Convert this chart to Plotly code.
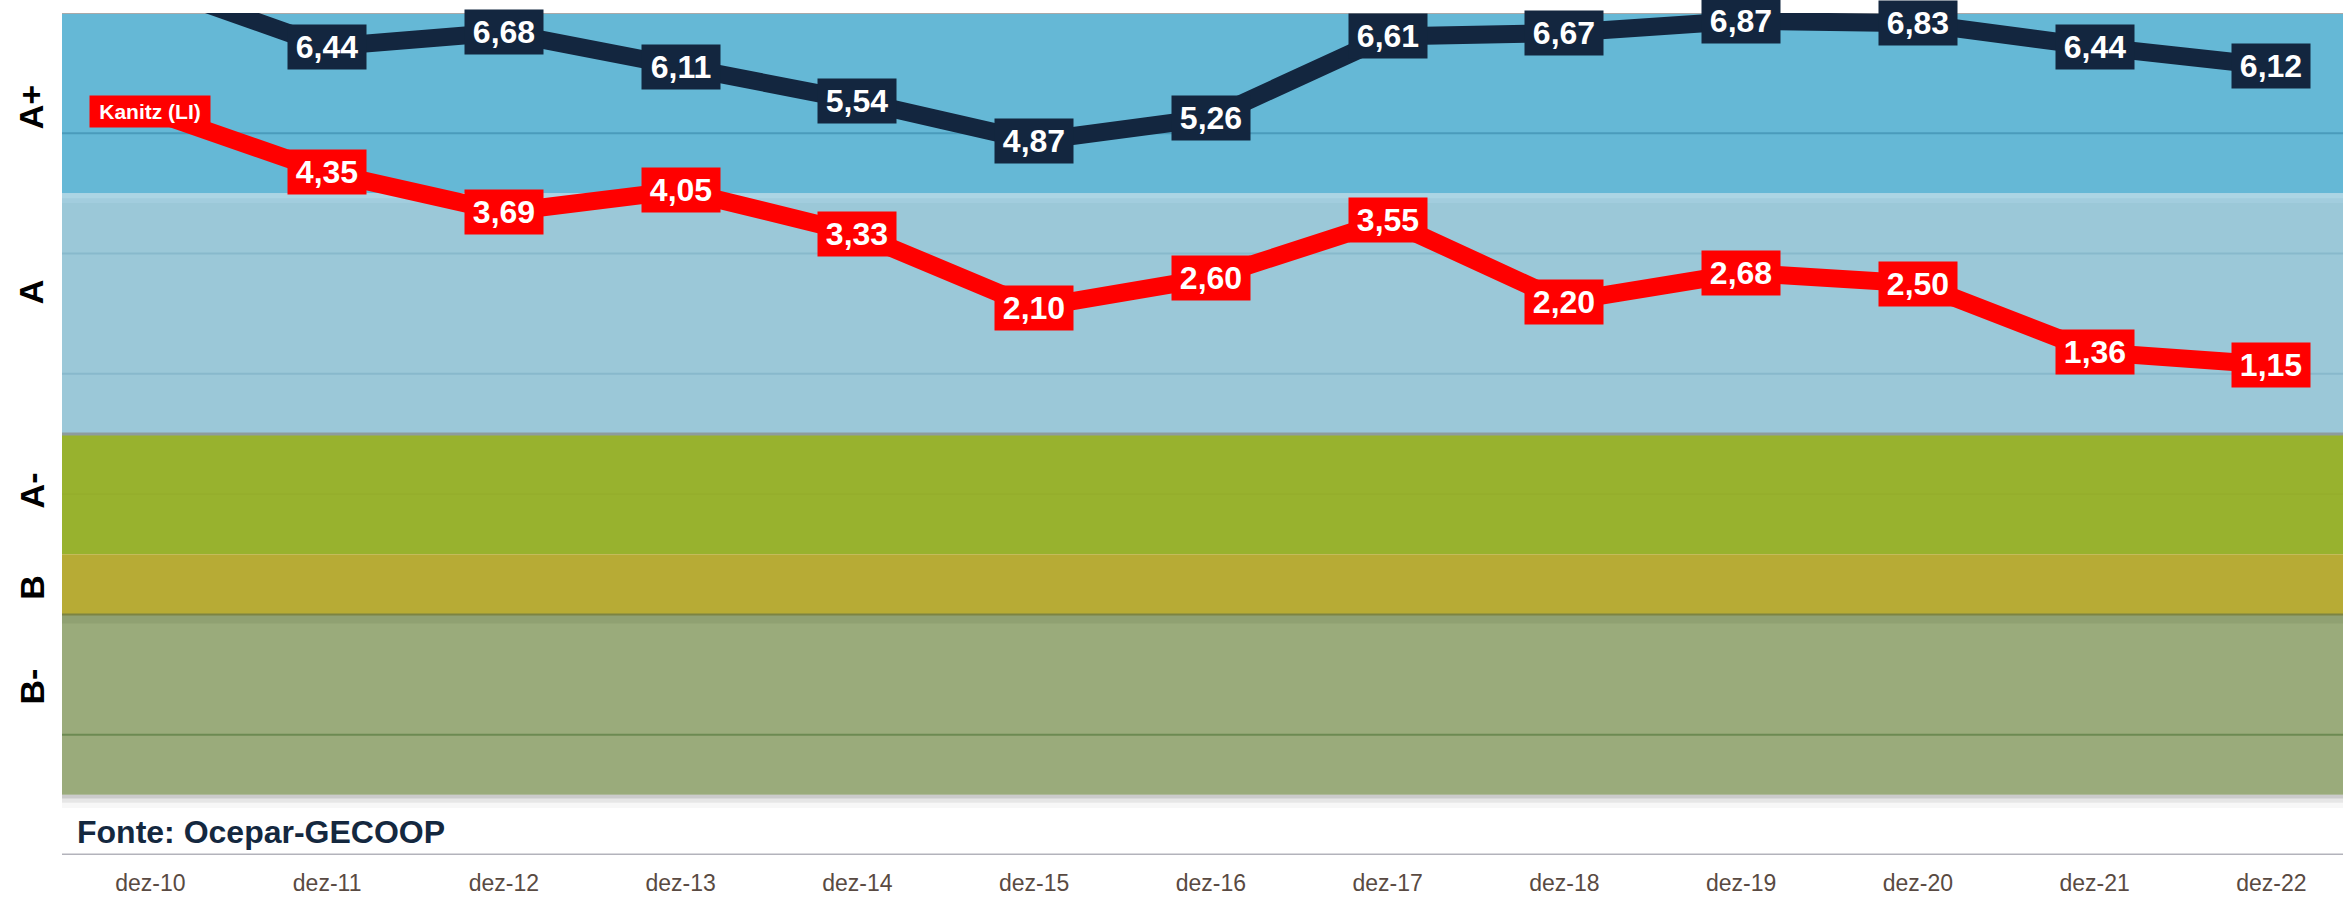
import plotly.graph_objects as go

categories = ["dez-10", "dez-11", "dez-12", "dez-13", "dez-14", "dez-15", "dez-16",
              "dez-17", "dez-18", "dez-19", "dez-20", "dez-21", "dez-22"]
kanitz_ls = [7.48, 6.44, 6.68, 6.11, 5.54, 4.87, 5.26, 6.61, 6.67, 6.87, 6.83, 6.44, 6.12]
kanitz_li = [5.37, 4.35, 3.69, 4.05, 3.33, 2.10, 2.60, 3.55, 2.20, 2.68, 2.50, 1.36, 1.15]
li_name = "Kanitz (LI)"

bands = [  # (label, y0, y1, color, label_y)
    ("A+", 4, 7, "#65b8d6", 5.43),
    ("A", 0, 4, "#9bc8d8", 2.37),
    ("A-", -2, 0, "#98b22e", -0.94),
    ("B", -3, -2, "#b7ab35", -2.54),
    ("B-", -6, -3, "#9aab7b", -4.2),
]
grid_lines = [(5, "#4a9bbb", 2), (3, "#88b9cc", 2), (1, "#88b9cc", 2), (0, "#8d9c9c", 3),
              (-1, "#93ad2b", 1), (-3, "#7c8443", 2), (-5, "#6c8a52", 2)]

YMIN, YMAX = -7, 7
FONT = "Arial, Liberation Sans, sans-serif"
NAVY = "#13263f"
RED = "#ff0000"

fig = go.Figure()

fig.add_trace(go.Scatter(x=categories, y=kanitz_li, mode="lines",
                         line=dict(color=RED, width=18), name=li_name, hoverinfo="skip"))
fig.add_trace(go.Scatter(x=categories, y=kanitz_ls, mode="lines",
                         line=dict(color=NAVY, width=18), name="Kanitz (LS)", hoverinfo="skip"))

shapes = []
for lab, y0, y1, col, _ in bands:
    shapes.append(dict(type="rect", xref="paper", x0=0, x1=1, yref="y", y0=y0, y1=y1,
                       fillcolor=col, line_width=0, layer="below"))
# subtle highlight at top of A band
for d, op in [(0.08, 0.55), (0.16, 0.3)]:
    shapes.append(dict(type="rect", xref="paper", x0=0, x1=1, yref="y", y0=4 - d, y1=4,
                       fillcolor="#b4dcea", opacity=op, line_width=0, layer="below"))
# shadow at top of B- band
shapes.append(dict(type="rect", xref="paper", x0=0, x1=1, yref="y", y0=-3.15, y1=-3,
                   fillcolor="#7f8f62", opacity=0.35, line_width=0, layer="below"))
# shadow below B- band
for d, op in [(0.06, 0.35), (0.13, 0.18), (0.22, 0.08)]:
    shapes.append(dict(type="rect", xref="paper", x0=0, x1=1, yref="y", y0=-6 - d, y1=-6,
                       fillcolor="#9a9a9a", opacity=op, line_width=0, layer="below"))
for yv, col, w in grid_lines:
    shapes.append(dict(type="line", xref="paper", x0=0, x1=1, yref="y", y0=yv, y1=yv,
                       line=dict(color=col, width=w), layer="below"))
# top border and bottom axis line
shapes.append(dict(type="line", xref="paper", x0=0, x1=1, yref="y", y0=YMAX, y1=YMAX,
                   line=dict(color="#a9a9a9", width=2), layer="below"))
shapes.append(dict(type="line", xref="paper", x0=0, x1=1, yref="y", y0=YMIN, y1=YMIN,
                   line=dict(color="#b3b3bb", width=3), layer="below"))

annotations = []
for lab, y0, y1, col, ly in bands:
    annotations.append(dict(text="<b>%s</b>" % lab, xref="paper", x=-0.0132, yref="y", y=ly,
                            textangle=-90, showarrow=False, xanchor="center", yanchor="middle",
                            font=dict(family=FONT, size=34, color="#000000")))

def fmt(v):
    return ("%.2f" % v).replace(".", ",")

for series, col in [(kanitz_ls, NAVY), (kanitz_li, RED)]:
    for i, (c, v) in enumerate(zip(categories, series)):
        if v > YMAX or v < YMIN:
            continue
        if i == 0 and series is kanitz_li:
            annotations.append(dict(text="<b>%s</b>" % li_name, x=c, y=v, xref="x", yref="y",
                                    showarrow=False, bgcolor=col, borderpad=4, width=112,
                                    font=dict(family=FONT, size=21, color="#ffffff")))
            continue
        annotations.append(dict(text="<b>%s</b>" % fmt(v), x=c, y=v, xref="x", yref="y",
                                showarrow=False, bgcolor=col, borderpad=4, width=70,
                                font=dict(family=FONT, size=32, color="#ffffff")))

annotations.append(dict(text="<b>Fonte: Ocepar-GECOOP</b>", xref="paper", x=0.0055, yref="y",
                        y=-6.62, xanchor="left", yanchor="middle", showarrow=False,
                        font=dict(family=FONT, size=32, color="#14283f")))

fig.update_layout(
    width=2343, height=897,
    margin=dict(l=62, r=0, t=13, b=42),
    paper_bgcolor="#ffffff", plot_bgcolor="#ffffff",
    showlegend=False,
    shapes=shapes, annotations=annotations,
    xaxis=dict(type="category", range=[-0.5, 12.405], showgrid=False, zeroline=False,
               showline=False, ticks="", ticklabelstandoff=12,
               tickfont=dict(family=FONT, size=23, color="#594a42"),
               fixedrange=True),
    yaxis=dict(range=[YMIN, YMAX], showgrid=False, zeroline=False, showline=False,
               showticklabels=False, ticks="", fixedrange=True),
)

fig.write_html("out.html", config={"displayModeBar": False},
               post_script="document.body.style.margin='0';document.body.style.overflow='hidden';")
